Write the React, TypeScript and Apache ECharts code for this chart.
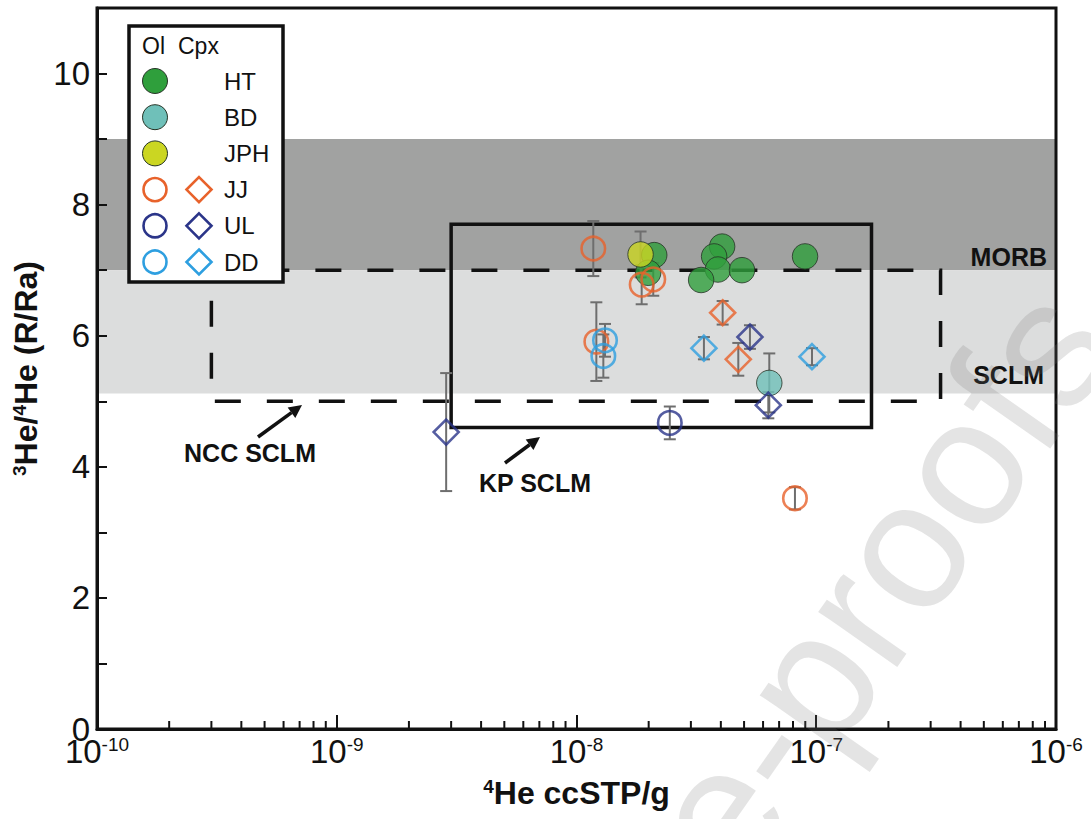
import React, { useEffect, useRef } from "react";
import * as echarts from "echarts";

// ---------- axis ----------
const X_MIN = 1e-10;
const X_MAX = 1e-6;
const Y_MIN = 0;
const Y_MAX = 11;
const decadeExponents = [-10, -9, -8, -7];
const minorSteps = [2, 3, 4, 5, 6, 7, 8, 9];

// ---------- data: [4He ccSTP/g, 3He/4He (R/Ra), ±error] ----------
const htOl = [
  [2.11e-8, 7.23],
  [1.99e-8, 6.96],
  [4.05e-8, 7.36],
  [3.75e-8, 7.21],
  [3.89e-8, 7.01],
  [3.31e-8, 6.85],
  [4.9e-8, 7.0],
  [8.98e-8, 7.21],
];
const bdOl = [[6.37e-8, 5.28, 0.45]];
const jphOl = [[1.85e-8, 7.24, 0.35]];
const jjOl = [
  [1.175e-8, 7.33, 0.42],
  [1.87e-8, 6.78, 0.3],
  [2.09e-8, 6.86, 0.25],
  [1.21e-8, 5.91, 0.6],
  [8.15e-8, 3.52, 0.17],
];
const jjCpx = [
  [4.07e-8, 6.35, 0.18],
  [4.73e-8, 5.64, 0.25],
];
const ulOl = [[2.45e-8, 4.67, 0.25]];
const ulCpx = [
  [5.29e-8, 5.98, 0.18],
  [6.31e-8, 4.94, 0.2],
  [2.86e-9, 4.53, 0.9],
];
const ddOl = [
  [1.315e-8, 5.93, 0.25],
  [1.294e-8, 5.69, 0.33],
];
const ddCpx = [
  [3.4e-8, 5.81, 0.17],
  [9.6e-8, 5.68, 0.13],
];

// reference fields (y ranges) and boxes [x0, y0, x1, y1]
const morbBand = [7, 9];
const sclmBand = [5.12, 7];
const nccBox = [3e-10, 5, 3.3e-7, 7];
const kpBox = [3e-9, 4.6, 1.7e-7, 7.7];

const legendRows = ["HT", "BD", "JPH", "JJ", "UL", "DD"];

// ---------- styles ----------
const C = {
  HT: "#2f9f3c",
  BD: "#6fc0b9",
  JPH: "#cbd622",
  JJ: "#e8622b",
  UL: "#2b3589",
  DD: "#2e9fe0",
};
const INK = "#111111";
const SANS = "'Liberation Sans', Arial, sans-serif";
const NARROW = "'Liberation Sans Narrow', 'Liberation Sans', Arial, sans-serif";

function arrow(x1: number, y1: number, x2: number, y2: number) {
  const dx = x2 - x1, dy = y2 - y1;
  const len = Math.hypot(dx, dy);
  const ux = dx / len, uy = dy / len;
  const nx = -uy, ny = ux;
  const hl = 13, hw = 6.5;
  const bx = x2 - ux * hl, by = y2 - uy * hl;
  return [
    { type: "line", z: 30, shape: { x1, y1, x2: bx, y2: by }, style: { stroke: INK, lineWidth: 3.5 } },
    {
      type: "polygon", z: 30,
      shape: { points: [[x2, y2], [bx + nx * hw, by + ny * hw], [bx - nx * hw, by - ny * hw]] },
      style: { fill: INK },
    },
  ];
}

function txt(x: number, y: number, text: string, font: string, align = "left") {
  return {
    type: "text", z: 30, x, y,
    style: { text, font, fill: INK, align, textAlign: align, verticalAlign: "middle", textVerticalAlign: "middle" },
  };
}

function buildOption() {
  const minorTicks: number[][] = [];
  decadeExponents.forEach((e) => minorSteps.forEach((k) => minorTicks.push([k * Math.pow(10, e), 0])));

  const errorBars = [...bdOl, ...jphOl, ...jjOl, ...jjCpx, ...ulOl, ...ulCpx, ...ddOl, ...ddCpx];

  const scatter = (name: string, data: number[][], symbol: string, color: string, filled: boolean) => ({
    name,
    type: "scatter",
    z: 4,
    silent: true,
    symbol,
    symbolSize: filled ? 25.5 : symbol === "diamond" ? 25 : 23.5,
    data: data.map((d) => [d[0], d[1]]),
    itemStyle: filled
      ? { color, borderColor: "#253325", borderWidth: 1 }
      : { color: "rgba(0,0,0,0)", borderColor: color, borderWidth: 2.6 },
  });

  // legend graphic
  const lx = 129, ly = 26, lw = 154, lh = 256;
  const rowY0 = 81, rowDy = 36.2;
  const legendChildren: any[] = [
    { type: "rect", z: 30, shape: { x: lx, y: ly, width: lw, height: lh }, style: { fill: "#fff", stroke: INK, lineWidth: 3.5 } },
    txt(142, 46, "Ol", `23px ${SANS}`),
    txt(178, 46, "Cpx", `23px ${SANS}`),
  ];
  legendRows.forEach((name, i) => {
    const cy = rowY0 + i * rowDy;
    const col = (C as any)[name];
    const filled = i < 3;
    legendChildren.push({
      type: "circle", z: 31,
      shape: { cx: 155, cy, r: filled ? 12.5 : 11.5 },
      style: filled ? { fill: col, stroke: "#253325", lineWidth: 1 } : { fill: "none", stroke: col, lineWidth: 2.6 },
    });
    if (!filled) {
      legendChildren.push({
        type: "polygon", z: 31,
        shape: { points: [[199, cy - 12.5], [211.5, cy], [199, cy + 12.5], [186.5, cy]] },
        style: { fill: "none", stroke: col, lineWidth: 2.6 },
      });
    }
    legendChildren.push(txt(224, cy, name, `24px ${SANS}`));
  });

  // watermark ("Journal Pre-proofs", anchored so the "e" of "Pre" sits near the bottom)
  const wmAngle = (55 * Math.PI) / 180;
  const wmFont = 182;
  const eCx = 716, eCy = 815;
  const off = 4.835 * wmFont;
  const wmX = eCx - off * Math.cos(wmAngle);
  const wmY = eCy + off * Math.sin(wmAngle);

  return {
    animation: false,
    backgroundColor: "#ffffff",
    grid: { left: 97, right: 35, top: 8, bottom: 90, show: true, borderColor: INK, borderWidth: 3, backgroundColor: "transparent", z: 10 },
    xAxis: {
      type: "log",
      logBase: 10,
      min: X_MIN,
      max: X_MAX,
      z: 10,
      name: "{s|4}{b|He ccSTP/g}",
      nameLocation: "middle",
      nameGap: 48,
      nameTextStyle: {
        rich: {
          s: { fontSize: 19, fontWeight: "bold", fontFamily: SANS, color: INK, verticalAlign: "top" },
          b: { fontSize: 32, fontWeight: "bold", fontFamily: SANS, color: INK },
        },
      },
      axisLine: { show: true, lineStyle: { color: INK, width: 3 } },
      axisTick: { show: true, inside: true, length: 14, lineStyle: { color: INK, width: 2 } },
      minorTick: { show: false },
      splitLine: { show: false },
      axisLabel: {
        margin: 6,
        formatter: (v: number) => `{b|10}{s|${Math.round(Math.log10(v))}}`,
        rich: {
          b: { fontSize: 33, fontFamily: NARROW, color: INK },
          s: { fontSize: 19, fontFamily: NARROW, color: INK, verticalAlign: "top" },
        },
      },
    },
    yAxis: {
      type: "value",
      min: Y_MIN,
      max: Y_MAX,
      interval: 2,
      z: 10,
      name: "{s|3}{b|He/}{s|4}{b|He (R/Ra)}",
      nameLocation: "middle",
      nameRotate: 90,
      nameGap: 52,
      nameTextStyle: {
        rich: {
          s: { fontSize: 19, fontWeight: "bold", fontFamily: SANS, color: INK, verticalAlign: "top" },
          b: { fontSize: 32, fontWeight: "bold", fontFamily: SANS, color: INK },
        },
      },
      axisLine: { show: true, lineStyle: { color: INK, width: 3 } },
      axisTick: { show: true, inside: true, length: 10, lineStyle: { color: INK, width: 2 } },
      minorTick: { show: true, splitNumber: 2, length: 10, lineStyle: { color: INK, width: 2 } },
      splitLine: { show: false },
      axisLabel: { margin: 7, fontSize: 33, fontFamily: NARROW, color: INK, showMaxLabel: false },
    },
    graphic: [
      ...legendChildren,
      txt(1047, 257, "MORB", `bold 25px ${SANS}`, "right"),
      txt(1044, 375, "SCLM", `bold 25px ${SANS}`, "right"),
      txt(250, 453, "NCC SCLM", `bold 25px ${SANS}`, "center"),
      txt(535, 483, "KP SCLM", `bold 25px ${SANS}`, "center"),
      ...arrow(258, 437, 302, 405),
      ...arrow(505, 463, 540, 437),
      {
        type: "text", z: 100, silent: true,
        x: wmX, y: wmY, rotation: wmAngle,
        style: {
          text: "Journal Pre-proofs",
          font: `${wmFont}px ${SANS}`,
          fill: "rgba(120,120,120,0.2)",
          align: "left", textAlign: "left", verticalAlign: "middle", textVerticalAlign: "middle",
        },
      },
    ],
    series: [
      {
        name: "bands",
        type: "custom",
        z: 1,
        silent: true,
        clip: false,
        data: [
          [morbBand[0], morbBand[1]],
          [sclmBand[0], sclmBand[1]],
        ].map((b) => [1e-8, ...b]),
        encode: { x: 0, y: [1, 2] },
        renderItem: (params: any, api: any) => {
          const top = api.coord([1e-8, api.value(2)])[1];
          const bot = api.coord([1e-8, api.value(1)])[1];
          const cs = params.coordSys;
          return {
            type: "rect",
            shape: { x: cs.x, y: top, width: cs.width, height: bot - top },
            style: { fill: params.dataIndex === 0 ? "#a1a2a1" : "#dcdddd" },
          };
        },
      },
      {
        name: "boxes",
        type: "custom",
        z: 2,
        silent: true,
        clip: false,
        data: [nccBox, kpBox],
        encode: { x: [0, 2], y: [1, 3] },
        renderItem: (params: any, api: any) => {
          const p0 = api.coord([api.value(0), api.value(3)]);
          const p1 = api.coord([api.value(2), api.value(1)]);
          const dashed = params.dataIndex === 0;
          return {
            type: "rect",
            shape: { x: p0[0], y: p0[1], width: p1[0] - p0[0], height: p1[1] - p0[1] },
            style: dashed
              ? { fill: "none", stroke: INK, lineWidth: 3.5, lineDash: [26, 26] }
              : { fill: "none", stroke: INK, lineWidth: 3.5 },
          };
        },
      },
      {
        name: "errors",
        type: "custom",
        z: 3,
        silent: true,
        clip: false,
        data: errorBars,
        encode: { x: 0, y: 1 },
        renderItem: (params: any, api: any) => {
          const x = api.value(0), y = api.value(1), e = api.value(2);
          const t = api.coord([x, y + e]);
          const b = api.coord([x, y - e]);
          const cw = 6;
          const st = { stroke: "#6e6e6e", lineWidth: 2 };
          return {
            type: "group",
            children: [
              { type: "line", shape: { x1: t[0], y1: t[1], x2: b[0], y2: b[1] }, style: st },
              { type: "line", shape: { x1: t[0] - cw, y1: t[1], x2: t[0] + cw, y2: t[1] }, style: st },
              { type: "line", shape: { x1: b[0] - cw, y1: b[1], x2: b[0] + cw, y2: b[1] }, style: st },
            ],
          };
        },
      },
      scatter("HT", htOl, "circle", C.HT, true),
      scatter("BD", bdOl, "circle", C.BD, true),
      scatter("JPH", jphOl, "circle", C.JPH, true),
      scatter("JJ Ol", jjOl, "circle", C.JJ, false),
      scatter("JJ Cpx", jjCpx, "diamond", C.JJ, false),
      scatter("UL Ol", ulOl, "circle", C.UL, false),
      scatter("UL Cpx", ulCpx, "diamond", C.UL, false),
      scatter("DD Ol", ddOl, "circle", C.DD, false),
      scatter("DD Cpx", ddCpx, "diamond", C.DD, false),
      {
        name: "minorTicks",
        type: "custom",
        z: 12,
        silent: true,
        clip: false,
        data: minorTicks,
        encode: { x: 0, y: 1 },
        renderItem: (params: any, api: any) => {
          const p = api.coord([api.value(0), Y_MIN]);
          return {
            type: "line",
            shape: { x1: p[0], y1: p[1], x2: p[0], y2: p[1] - 8 },
            style: { stroke: INK, lineWidth: 2 },
          };
        },
      },
    ],
  };
}

export default function App() {
  const ref = useRef<HTMLDivElement>(null);
  useEffect(() => {
    if (!ref.current) return;
    const chart = echarts.init(ref.current, null, { renderer: "svg" });
    chart.setOption(buildOption() as any);
    return () => chart.dispose();
  }, []);
  return (
    <div
      ref={ref}
      style={{ position: "fixed", left: 0, top: 0, width: 1091, height: 819, background: "#fff" }}
    />
  );
}
